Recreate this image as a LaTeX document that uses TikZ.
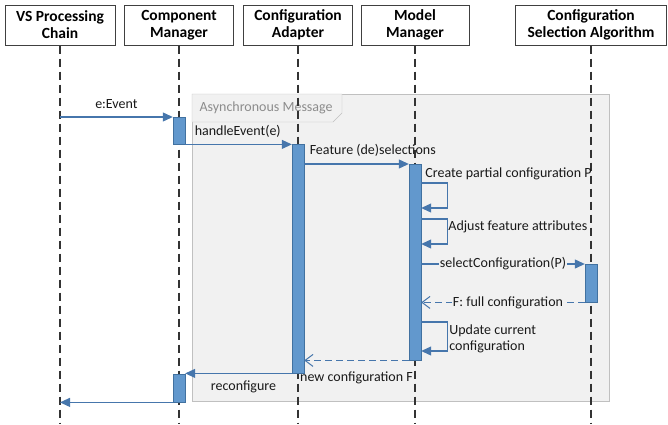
\documentclass[tikz,border=0pt]{standalone}
\usepackage{fontspec}
\setmainfont{Carlito}
\usepackage{tikz}
\usetikzlibrary{positioning,calc,arrows.meta}
\definecolor{barblue}{RGB}{98,152,205}
\definecolor{barline}{RGB}{65,113,160}
\definecolor{msgblue}{RGB}{70,118,172}
\definecolor{framefill}{RGB}{241,241,241}
\definecolor{framedraw}{RGB}{192,192,192}
\definecolor{headgray}{RGB}{64,64,64}

\begin{document}
\begin{tikzpicture}[x=1pt,y=-1pt,font=\fontsize{14}{16}\selectfont,
		head/.style={draw=headgray, line width=1pt, minimum height=40pt, align=center,
		inner sep=1pt, font=\fontsize{15.5}{17}\selectfont\bfseries},
		lifeline/.style={draw=black!80, line width=1.1pt, dash pattern=on 8pt off 5pt},
		bar/.style={draw=barline, fill=barblue, minimum width=12pt, inner sep=0pt, anchor=north},
		msg/.style={draw=msgblue, line width=1.1pt, -{Triangle[length=10pt,width=9pt]}},
		reply/.style={draw=msgblue, line width=1pt, dash pattern=on 7pt off 4pt,
		-{Straight Barb[length=8pt,width=12pt]}},
		lbl/.style={inner sep=1pt, text=black!90}]
		\useasboundingbox (0,0) rectangle (668,424);
		% asynchronous message frame
		\draw[draw=framedraw, fill=framefill] (192,94) rectangle (609,401);
		\draw[draw=framedraw, fill=framefill] (192,94) -- (342,94) -- (342,113) -- (333,122) -- (192,122) -- cycle;
		\node[anchor=west, text=black!45] (async) at (196,108) {Asynchronous Message};
		% heads
		\node[head, minimum width=110pt] (vs) at (60,25) {VS Processing\\Chain};
		\node[head, minimum width=109pt] (cm) at (179,25) {Component\\Manager};
		\node[head, minimum width=109pt] (ca) at (298,25) {Configuration\\Adapter};
		\node[head, minimum width=108pt] (mm) at (415,25) {Model\\Manager};
		\node[head, minimum width=151pt] (csa) at (591,25) {Configuration\\Selection Algorithm};
		\foreach \n in {vs,cm,ca,mm,csa}
			\draw[lifeline] (\n.south) -- (\n.south |- 0,424);
		% activations
		\node[bar, minimum height=27pt] (cm1) at (179,117) {};
		\node[bar, minimum height=229pt] (ca1) at (298,144) {};
		\node[bar, minimum height=196pt] (mm1) at (415,164) {};
		\node[bar, minimum height=38pt] (csa1) at (591,264) {};
		\node[bar, minimum height=28pt] (cm2) at (179,374) {};
		% messages
		\draw[msg] (vs.south |- cm1.north) -- (cm1.north west)
			node[lbl, midway, yshift=13pt] {e:Event};
		\draw[msg] (cm1.south east) -- (cm1.south east -| ca1.west)
			node[lbl, pos=0, anchor=west, yshift=13pt, xshift=8pt] {handleEvent(e)};
		\draw[msg] (ca1.east |- mm1.north) -- (mm1.north west)
			node[lbl, pos=0, anchor=west, yshift=14pt, xshift=4pt] {Feature (de)selections};
		\draw[msg] ($(mm1.north east)+(0,19)$) -| ++(26,25) -- ++(-26,0);
		\node[lbl, anchor=west] (create) at ($(mm1.north east)+(3,10)$) {Create partial configuration P};
		\draw[msg] ($(mm1.north east)+(0,55)$) -| ++(26,25) -- ++(-26,0);
		\node[lbl, anchor=west] (adjust) at ($(mm1.north east)+(26,63)$) {Adjust feature attributes};
		\draw[msg] (mm1.east |- csa1.north) -- (csa1.north west)
			node[lbl, midway, fill=framefill] {selectConfiguration(P)};
		\draw[reply] (csa1.south west) -- (mm1.east |- csa1.south)
			node[lbl, midway, fill=framefill, xshift=5pt] {F: full configuration};
		\draw[msg] ($(mm1.north east)+(0,158)$) -| ++(26,29) -- ++(-26,0);
		\node[lbl, anchor=west, align=left] (update) at ($(mm1.north east)+(27,175)$) {Update current\\configuration};
		\draw[reply] (mm1.south west) -- (mm1.south west -| ca1.east)
			node[lbl, midway, yshift=-17pt] {new configuration F};
		\draw[msg] (ca1.south west) -- (ca1.south west -| cm2.east)
			node[lbl, midway, yshift=-13pt, xshift=5pt] {reconfigure};
		\draw[msg] (cm2.south west) -- (cm2.south west -| vs.south);
	\end{tikzpicture}
\end{document}
